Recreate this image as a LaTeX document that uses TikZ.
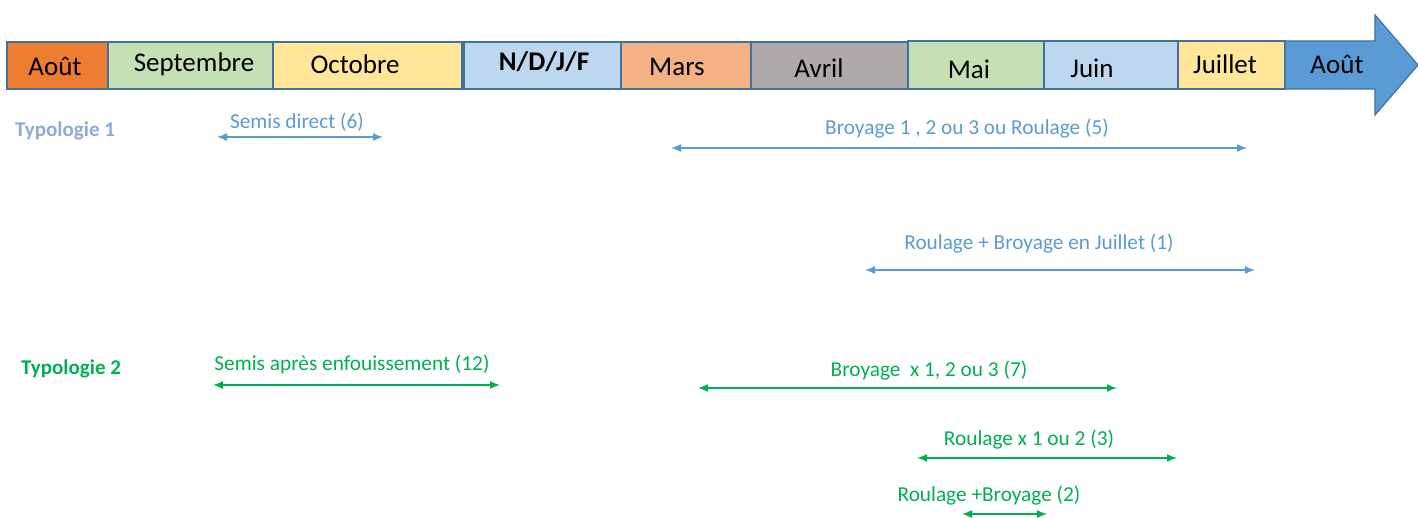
\documentclass[tikz,border=0pt]{standalone}
\usepackage{fontspec}
\setmainfont{Carlito}
\usetikzlibrary{arrows.meta, positioning}

\definecolor{bord}{HTML}{41719C}
\definecolor{orange}{HTML}{ED7D31}
\definecolor{vert}{HTML}{C5E0B4}
\definecolor{jaune}{HTML}{FFE699}
\definecolor{bleuclair}{HTML}{BDD7EE}
\definecolor{saumon}{HTML}{F4B183}
\definecolor{gris}{HTML}{AEAAAA}
\definecolor{bleu}{HTML}{5B9BD5}
\definecolor{lavande}{HTML}{8EA9DB}
\definecolor{vertfonce}{HTML}{00B050}

\tikzset{
  mois/.style={draw=bord, line width=1.2pt},
  nom/.style={font=\fontsize{27}{31}\selectfont, inner sep=0pt},
  typo/.style={font=\bfseries\fontsize{21}{25}\selectfont, anchor=west, inner sep=0pt},
  lbl/.style={font=\fontsize{21.3}{25}\selectfont, inner sep=0pt},
  duree/.style={{Latex[length=10pt,width=8pt]}-{Latex[length=10pt,width=8pt]}, line width=1.5pt},
}

\begin{document}
\begin{tikzpicture}[x=1pt, y=-1pt]
\useasboundingbox (0,0) rectangle (1418,518);

% frise des mois
\filldraw[mois, fill=orange] (7,42) rectangle (108,89);
\filldraw[mois, fill=vert] (108,42) rectangle (273,89);
\filldraw[mois, fill=jaune] (273,42) rectangle (462,89);
\filldraw[mois, fill=bleuclair] (464,42) rectangle (621,89);
\filldraw[mois, fill=saumon] (621,42) rectangle (751,89);
\filldraw[mois, fill=gris] (751,42) rectangle (908,89);
\filldraw[mois, fill=vert] (908,41) rectangle (1044,89);
\filldraw[mois, fill=bleuclair] (1044,41) rectangle (1178,89);
\filldraw[mois, fill=jaune] (1178,41) rectangle (1285,89);
\filldraw[mois, fill=bleu] (1285,41) -- (1375,41) -- (1375,15) -- (1418,65)
  -- (1375,115) -- (1375,89) -- (1285,89) -- cycle;

\node[nom](aout) at (55,66) {Août};
\node[nom](sept) at (194,64) {Septembre};
\node[nom](oct) at (355,64) {Octobre};
\node[nom, font=\bfseries\fontsize{27}{31}\selectfont](ndjf) at (544,62) {N/D/J/F};
\node[nom](mars) at (677,67) {Mars};
\node[nom](avr) at (819,68) {Avril};
\node[nom](mai) at (969,69) {Mai};
\node[nom](juin) at (1092,68) {Juin};
\node[nom](juil) at (1225,64) {Juillet};
\node[nom](aout2) at (1337,64) {Août};

% typologie 1
\node[typo, text=lavande](typo1) at (15,131) {Typologie 1};
\node[lbl, text=bleu](sd) at (297,122) {Semis direct (6)};
\node[lbl, text=bleu](br5) at (967,129) {Broyage 1 , 2 ou 3 ou Roulage (5)};
\node[lbl, text=bleu](rb1) at (1039,244) {Roulage + Broyage en Juillet (1)};

\coordinate (sdA) at (217,137);
\coordinate (sdB) at (383,137);
\coordinate (br5A) at (671,148);
\coordinate (br5B) at (1247,148);
\coordinate (rb1A) at (865,270);
\coordinate (rb1B) at (1255,270);

\draw[duree, bleu](sdA)--(sdB);
\draw[duree, bleu](br5A)--(br5B);
\draw[duree, bleu](rb1A)--(rb1B);

% typologie 2
\node[typo, text=vertfonce](typo2) at (21,369) {Typologie 2};
\node[lbl, text=vertfonce](se) at (352,364) {Semis après enfouissement (12)};
\node[lbl, text=vertfonce](br7) at (929,371) {Broyage\ \ x 1, 2 ou 3 (7)};
\node[lbl, text=vertfonce](ro3) at (1029,440) {Roulage x 1 ou 2 (3)};
\node[lbl, text=vertfonce](rb2) at (989,496) {Roulage +Broyage (2)};

\coordinate (seA) at (213,385);
\coordinate (seB) at (500,385);
\coordinate (br7A) at (698,388);
\coordinate (br7B) at (1117,388);
\coordinate (ro3A) at (917,458);
\coordinate (ro3B) at (1177,458);
\coordinate (rb2A) at (962,514);
\coordinate (rb2B) at (1047,514);

\draw[duree, vertfonce](seA)--(seB);
\draw[duree, vertfonce](br7A)--(br7B);
\draw[duree, vertfonce](ro3A)--(ro3B);
\draw[duree, vertfonce](rb2A)--(rb2B);
\end{tikzpicture}
\end{document}
